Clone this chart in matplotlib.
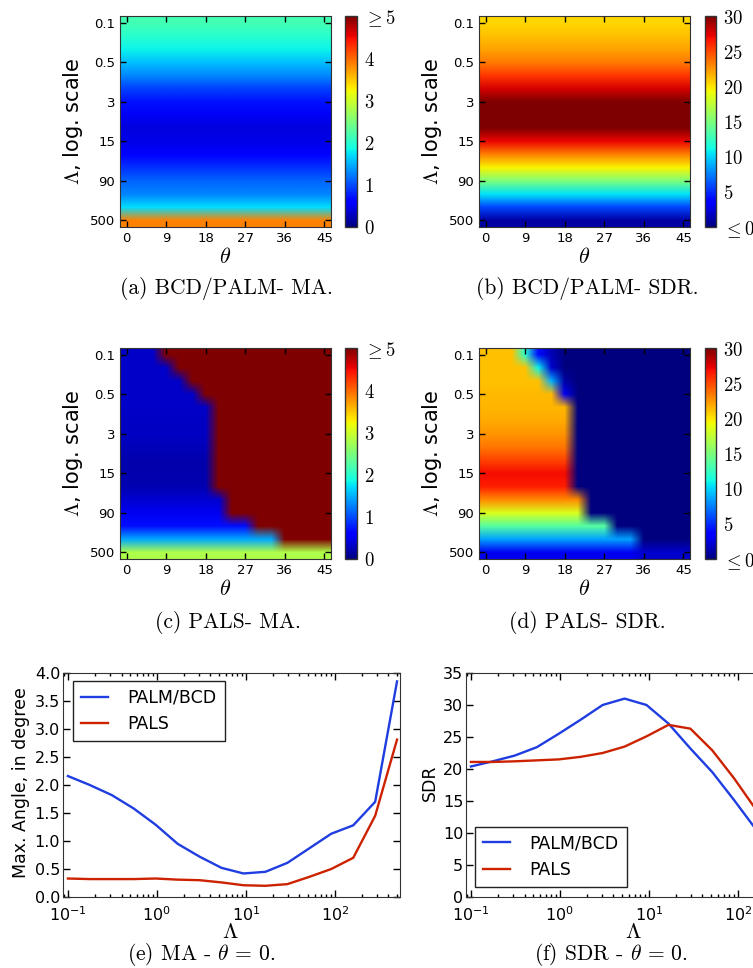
import numpy as np
import matplotlib
matplotlib.use('Agg')
import matplotlib.pyplot as plt

plt.rcParams['axes.unicode_minus'] = False

# regularisation grid (log scale) and rotation angles
lam = [0.1, 0.176, 0.311, 0.549, 0.969, 1.71, 3.02, 5.33, 9.41, 16.6, 29.3, 51.7, 91.2, 161, 284, 500]
theta = [0, 3, 6, 9, 12, 15, 18, 21, 24, 27, 30, 33, 36, 39, 42, 45]
lam_ticks = ['0.1', '0.5', '3', '15', '90', '500']
theta_ticks = [0, 9, 18, 27, 36, 45]

# theta = 0 curves
ma_palm = [2.16, 2.00, 1.82, 1.58, 1.29, 0.95, 0.72, 0.52, 0.42, 0.45, 0.61, 0.87, 1.13, 1.28, 1.70, 3.85]
ma_pals = [0.33, 0.32, 0.32, 0.32, 0.33, 0.31, 0.30, 0.26, 0.21, 0.20, 0.23, 0.36, 0.50, 0.70, 1.45, 2.81]
sdr_palm = [20.4, 21.2, 22.1, 23.4, 25.5, 27.7, 30.0, 31.0, 30.0, 27.1, 23.2, 19.5, 15.1, 10.5, 5.8, 1.0]
sdr_pals = [21.1, 21.1, 21.2, 21.35, 21.5, 21.9, 22.5, 23.5, 25.1, 26.9, 26.3, 22.9, 18.5, 13.6, 8.5, 3.0]

# PALS: first theta column (per Lambda row) where it fails
pals_fail_col = [3, 4, 5, 6, 7, 7, 7, 7, 7, 7, 7, 8, 8, 10, 12, 16]
ma_fail = 6.0
sdr_fail = -3.0
# cells along the failure edge of the PALS SDR map (row, col, value)
sdr_edge_cells = [(0, 3, 12.0), (0, 4, 4.0), (0, 5, 1.5), (1, 4, 11.0), (1, 5, 2.0),
                  (2, 5, 9.0), (2, 6, 1.0), (3, 6, 3.0),
                  (15, 12, 2.0), (15, 13, 2.0), (15, 14, 2.0), (15, 15, 2.0)]

blue = '#1f3de0'
red = '#cc2200'

W, H = 753, 968
fig = plt.figure(figsize=(W / 100, H / 100), dpi=100)


def px_axes(x0, y0, x1, y1):
    return fig.add_axes([x0 / W, 1 - y1 / H, (x1 - x0) / W, (y1 - y0) / H])


# build the 16x16 tables
n_l, n_t = len(lam), len(theta)
grid_a = np.tile(np.array(ma_palm)[:, None], (1, n_t))
grid_b = np.tile(np.array(sdr_palm)[:, None], (1, n_t))
grid_c = np.full((n_l, n_t), ma_fail)
grid_d = np.full((n_l, n_t), sdr_fail)
for r in range(n_l):
    grid_c[r, :pals_fail_col[r]] = ma_pals[r]
    grid_d[r, :pals_fail_col[r]] = sdr_pals[r]
for r, c, v in sdr_edge_cells:
    grid_d[r, c] = v

lam_idx = [int(np.argmin(np.abs(np.log(lam) - np.log(float(t))))) for t in lam_ticks]
theta_idx = [theta.index(t) for t in theta_ticks]


def caption_text(text, xy):
    fig.text(xy[0] / W, 1 - xy[1] / H, text, family='cmr10',
             math_fontfamily='cm', fontsize=15.5, ha='center', va='center')


def heatmap(box, cbox, grid, vmax, cb_ticks, cb_labels, caption, cap_xy):
    ax = px_axes(*box)
    im = ax.imshow(grid, cmap='jet', vmin=0, vmax=vmax, interpolation='bilinear',
                   interpolation_stage='rgba', aspect='auto')
    ax.set_xticks(theta_idx)
    ax.set_xticklabels([str(t) for t in theta_ticks])
    ax.set_yticks(lam_idx)
    ax.set_yticklabels(lam_ticks)
    ax.tick_params(direction='in', top=True, right=True, length=4, width=1,
                   labelsize=9.5, pad=3.5)
    for s in ax.spines.values():
        s.set_color('#333333')
    ax.set_xlabel(r'$\theta$', fontsize=16, math_fontfamily='cm')
    ax.xaxis.set_label_coords(0.5, -0.142)
    ax.xaxis.label.set_va('center')
    ax.set_ylabel(r'$\Lambda$, log. scale', fontsize=15, math_fontfamily='cm')
    ax.yaxis.set_label_coords(-0.225, 0.5)
    ax.yaxis.label.set_va('center')

    cax = px_axes(*cbox)
    cb = fig.colorbar(im, cax=cax, ticks=cb_ticks)
    cb.ax.set_yticklabels(cb_labels, fontsize=13.5, math_fontfamily='cm')
    cb.ax.tick_params(length=0, pad=5)
    cb.outline.set_linewidth(1)
    cb.outline.set_edgecolor('#333333')

    caption_text(caption, cap_xy)


ma_ticks = [0, 1, 2, 3, 4, 5]
ma_labels = [r'$0$', r'$1$', r'$2$', r'$3$', r'$4$', r'$\geq 5$']
sdr_ticks = [0, 5, 10, 15, 20, 25, 30]
sdr_labels = [r'$\leq 0$', r'$5$', r'$10$', r'$15$', r'$20$', r'$25$', r'$30$']

heatmap((120, 16, 331, 227), (345, 16, 357, 227), grid_a, 5, ma_ticks, ma_labels,
        '(a) BCD/PALM- MA.', (226, 289))
heatmap((479, 16, 690, 227), (705, 16, 716, 227), grid_b, 30, sdr_ticks, sdr_labels,
        '(b) BCD/PALM- SDR.', (587, 289))
heatmap((120, 348, 331, 559), (345, 348, 357, 559), grid_c, 5, ma_ticks, ma_labels,
        '(c) PALS- MA.', (228, 622))
heatmap((479, 348, 690, 559), (705, 348, 716, 559), grid_d, 30, sdr_ticks, sdr_labels,
        '(d) PALS- SDR.', (587, 622))


def curves(box, y1, y2, ylim, yticks, yfmt, ylabel, ylab_x, leg_loc, leg_anchor, caption, cap_xy):
    ax = px_axes(*box)
    ax.plot(lam, y1, color=blue, lw=1.7, label='PALM/BCD')
    ax.plot(lam, y2, color=red, lw=1.7, label='PALS')
    ax.set_xscale('log')
    ax.set_xlim(0.088, 540)
    ax.set_ylim(*ylim)
    ax.set_yticks(yticks)
    ax.set_yticklabels([yfmt % v for v in yticks])
    ax.tick_params(which='both', direction='in', top=True, right=True, width=1)
    ax.tick_params(which='major', length=5, labelsize=11.5)
    ax.tick_params(which='minor', length=2.5)
    ax.tick_params(axis='y', pad=2)
    ax.tick_params(axis='x', pad=6)
    for s in ax.spines.values():
        s.set_color('#333333')
    ax.set_xlabel(r'$\Lambda$', fontsize=16, math_fontfamily='cm')
    ax.xaxis.set_label_coords(0.496, -0.158)
    ax.xaxis.label.set_va('center')
    ax.set_ylabel(ylabel, fontsize=12.5)
    ax.yaxis.set_label_coords(ylab_x, 0.51)
    ax.yaxis.label.set_va('center')
    leg = ax.legend(loc=leg_loc, bbox_to_anchor=leg_anchor, borderaxespad=0,
                    fontsize=12.5, fancybox=False, framealpha=1, edgecolor='#222222',
                    handlelength=1.55, handletextpad=1.15, borderpad=0.45)
    leg.get_frame().set_linewidth(1)
    caption_text(caption, cap_xy)


curves((63, 673, 400, 897), ma_palm, ma_pals, (0, 4), [0, 0.5, 1, 1.5, 2, 2.5, 3, 3.5, 4], '%.1f',
       'Max. Angle, in degree', -0.126, 'upper left', (10 / 337, 1 - 8 / 224),
       r'(e) MA - $\theta\/=\/0$.', (201, 955))
curves((466, 673, 803, 897), sdr_palm, sdr_pals, (0, 35), [0, 5, 10, 15, 20, 25, 30, 35], '%d',
       'SDR', -0.107, 'lower left', (9 / 337, 10 / 224),
       r'(f) SDR - $\theta\/=\/0$.', (611, 955))

fig.savefig('out.png', dpi=100)
